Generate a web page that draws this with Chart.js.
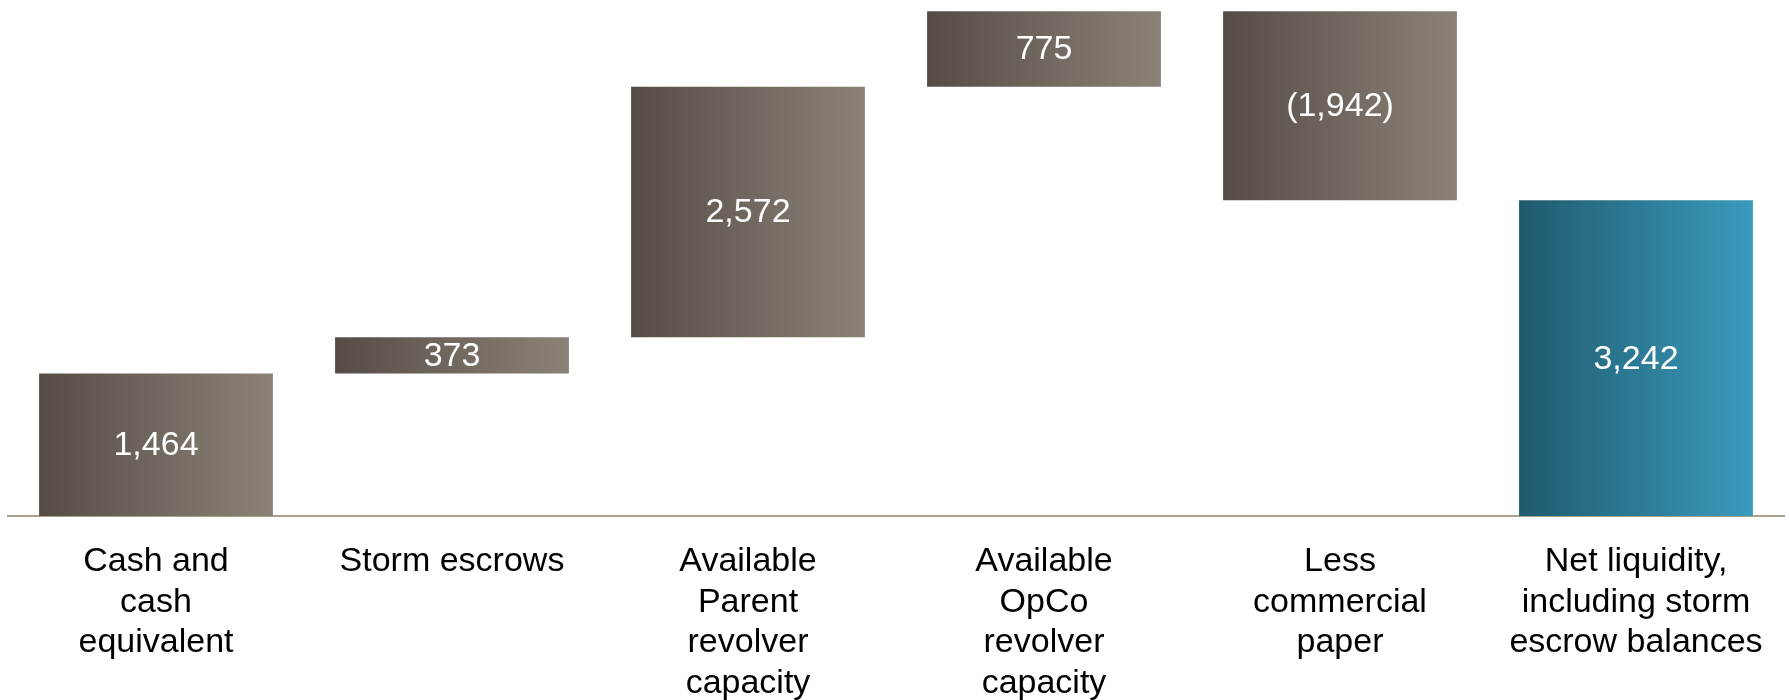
<!DOCTYPE html>
<html lang="en">
<head>
  <meta charset="UTF-8" />
  <title>Net liquidity bridge</title>
  <script src="https://cdn.jsdelivr.net/npm/chart.js"></script>
  <style>
    html, body {
      margin: 0;
      padding: 0;
      background: #fff;
    }
    #wrap {
      width: 1789px;
      height: 700px;
    }
  </style>
</head>
<body>
  <div id="wrap"><canvas id="bridge"></canvas></div>

  <script>
    // bridge steps, $ millions
    const categories = [
      ['Cash and', 'cash', 'equivalent'],
      ['Storm escrows'],
      ['Available', 'Parent', 'revolver', 'capacity'],
      ['Available', 'OpCo', 'revolver', 'capacity'],
      ['Less', 'commercial', 'paper'],
      ['Net liquidity,', 'including storm', 'escrow balances']
    ];
    const steps = [1464, 373, 2572, 775, -1942, 3242];
    const isTotal = [false, false, false, false, false, true];

    const FONT = "'Liberation Sans', Arial, sans-serif";
    const BAR_PCT = 0.79;

    // turn step values into floating [from, to] ranges
    const ranges = [];
    let running = 0;
    steps.forEach((v, i) => {
      if (isTotal[i]) {
        ranges.push([0, v]);
        running = v;
      } else {
        ranges.push([running, running + v]);
        running += v;
      }
    });

    function fmt(v) {
      const s = Math.abs(v).toLocaleString('en-US');
      return v < 0 ? '(' + s + ')' : s;
    }

    function barFill(ctx) {
      const chart = ctx.chart;
      const xs = chart.scales.x;
      if (!chart.chartArea || !xs) return '#6f665e';
      const cx = xs.getPixelForValue(ctx.dataIndex);
      const half = (xs.width / categories.length) * BAR_PCT / 2;
      const g = chart.ctx.createLinearGradient(cx - half, 0, cx + half, 0);
      if (isTotal[ctx.dataIndex]) {
        g.addColorStop(0, '#1f5a6c');
        g.addColorStop(1, '#3a9bbe');
      } else {
        g.addColorStop(0, '#554c46');
        g.addColorStop(1, '#8b8277');
      }
      return g;
    }

    // value text in the middle of each bar
    const valueLabels = {
      id: 'valueLabels',
      afterDatasetsDraw(chart) {
        const c = chart.ctx;
        const meta = chart.getDatasetMeta(0);
        c.save();
        c.fillStyle = '#ffffff';
        c.font = '34px ' + FONT;
        c.textAlign = 'center';
        c.textBaseline = 'middle';
        meta.data.forEach((bar, i) => {
          const mid = (bar.y + bar.base) / 2;
          c.fillText(fmt(steps[i]), bar.x, mid + 1);
        });
        c.restore();
      }
    };

    new Chart(document.getElementById('bridge'), {
      type: 'bar',
      data: {
        labels: categories,
        datasets: [{
          data: ranges,
          backgroundColor: barFill,
          borderWidth: 0,
          barPercentage: BAR_PCT,
          categoryPercentage: 1.0
        }]
      },
      options: {
        responsive: true,
        maintainAspectRatio: false,
        animation: false,
        layout: { padding: { left: 8, right: 5, top: 0, bottom: 0 } },
        plugins: {
          legend: { display: false },
          tooltip: { enabled: false }
        },
        scales: {
          x: {
            grid: { display: false, drawTicks: false },
            border: { display: true, color: '#aaa38b', width: 2 },
            ticks: {
              color: '#000000',
              autoSkip: false,
              maxRotation: 0,
              minRotation: 0,
              padding: 25,
              font: { family: FONT, size: 34, lineHeight: 1.2 }
            },
            afterFit(scale) { scale.height = 184; }
          },
          y: {
            display: false,
            min: 0,
            max: 5300
          }
        }
      },
      plugins: [valueLabels]
    });
  </script>
</body>
</html>
